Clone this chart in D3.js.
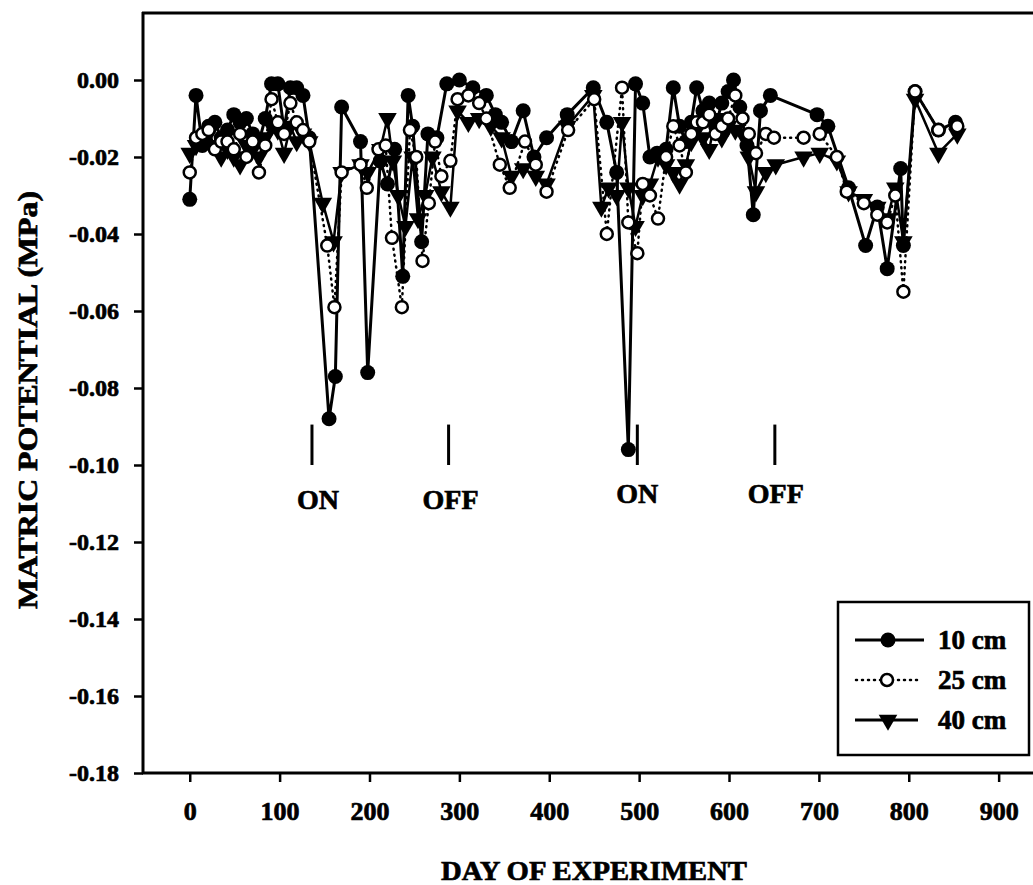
<!DOCTYPE html>
<html><head><meta charset="utf-8">
<script src="https://cdn.jsdelivr.net/npm/d3@7"></script>
<style>
html,body{margin:0;padding:0;background:#fff;}
svg text{font-family:"Liberation Serif","Times New Roman",serif;font-weight:bold;fill:#000;}
</style></head>
<body>
<svg id="chart" width="1033" height="885"></svg>
<script>
// ---------------- data ----------------
const xTicks = [0,100,200,300,400,500,600,700,800,900];
const yTicks = [0,-0.02,-0.04,-0.06,-0.08,-0.10,-0.12,-0.14,-0.16,-0.18];

const days10 = [0,7,14,21,28,35,42,49,56,63,70,77,84,91,98,105,112,119,126,133,
  155,162,169,190,198,212,220,228,237,243,248,258,265,275,286,300,315,330,340,347,358,371,383,397,420,
  449,464,475,488,496,504,512,520,530,538,545,552,558,564,571,578,585,592,599,605,612,620,627,635,646,
  698,710,733,752,765,776,791,794,807,833,852];
const mp10 = [-0.031,-0.004,-0.017,-0.012,-0.011,-0.015,-0.013,-0.009,-0.011,-0.010,-0.014,-0.016,-0.010,-0.001,-0.001,-0.013,-0.002,-0.002,-0.004,-0.015,
  -0.088,-0.077,-0.007,-0.016,-0.076,-0.021,-0.027,-0.018,-0.051,-0.004,-0.012,-0.042,-0.014,-0.015,-0.001,0.000,-0.002,-0.004,-0.009,-0.011,-0.016,-0.008,-0.020,-0.015,-0.009,
  -0.002,-0.011,-0.024,-0.096,-0.001,-0.006,-0.020,-0.019,-0.018,-0.002,-0.012,-0.016,-0.011,-0.002,-0.008,-0.006,-0.012,-0.006,-0.003,0.000,-0.007,-0.017,-0.035,-0.008,-0.004,
  -0.009,-0.012,-0.028,-0.043,-0.033,-0.049,-0.023,-0.043,-0.003,-0.013,-0.011];

const days25 = [0,7,14,21,28,35,42,49,56,63,70,77,84,91,98,105,112,119,126,133,
  153,161,169,190,197,210,218,225,236,245,252,259,266,273,280,290,298,310,322,330,345,356,373,385,397,421,
  450,464,481,488,498,504,512,521,530,538,545,552,558,564,571,578,585,592,599,607,615,622,630,641,650,
  683,701,720,731,750,765,776,785,794,807,833,854];
const mp25 = [-0.024,-0.015,-0.014,-0.013,-0.018,-0.016,-0.016,-0.018,-0.014,-0.020,-0.016,-0.024,-0.017,-0.005,-0.011,-0.014,-0.006,-0.011,-0.013,-0.016,
  -0.043,-0.059,-0.024,-0.022,-0.028,-0.018,-0.017,-0.041,-0.059,-0.013,-0.020,-0.047,-0.032,-0.016,-0.025,-0.021,-0.005,-0.004,-0.006,-0.010,-0.022,-0.028,-0.016,-0.022,-0.029,-0.013,
  -0.005,-0.040,-0.002,-0.037,-0.045,-0.027,-0.030,-0.036,-0.020,-0.012,-0.017,-0.024,-0.014,-0.011,-0.011,-0.009,-0.014,-0.012,-0.010,-0.004,-0.010,-0.014,-0.019,-0.014,-0.015,
  -0.015,-0.014,-0.020,-0.029,-0.032,-0.035,-0.037,-0.030,-0.055,-0.003,-0.013,-0.012];

const days40 = [0,7,14,21,28,35,42,49,56,63,70,77,84,91,98,105,112,119,126,133,
  148,160,169,190,198,212,220,226,232,240,248,254,262,270,280,290,298,310,322,335,347,358,371,385,397,420,
  449,458,466,475,481,488,496,504,512,521,530,538,545,552,558,564,571,578,585,592,599,607,615,622,630,641,652,
  683,701,720,733,750,765,776,785,794,807,833,854];
const mp40 = [-0.019,-0.017,-0.016,-0.014,-0.017,-0.020,-0.018,-0.020,-0.022,-0.017,-0.018,-0.020,-0.015,-0.012,-0.013,-0.019,-0.012,-0.016,-0.014,-0.016,
  -0.032,-0.042,-0.024,-0.022,-0.024,-0.018,-0.010,-0.021,-0.030,-0.038,-0.020,-0.036,-0.030,-0.020,-0.029,-0.033,-0.008,-0.011,-0.010,-0.012,-0.015,-0.025,-0.023,-0.025,-0.027,-0.012,
  -0.004,-0.033,-0.028,-0.030,-0.011,-0.028,-0.038,-0.030,-0.027,-0.020,-0.022,-0.024,-0.027,-0.022,-0.016,-0.013,-0.015,-0.018,-0.010,-0.015,-0.012,-0.013,-0.014,-0.020,-0.029,-0.024,-0.022,
  -0.020,-0.019,-0.021,-0.029,-0.031,-0.033,-0.036,-0.028,-0.042,-0.005,-0.019,-0.014];

const events = [
  {day:136, label:"ON",  dx:6,  dy:0},
  {day:288, label:"OFF", dx:2,  dy:0},
  {day:498, label:"ON",  dx:0,  dy:-6},
  {day:651, label:"OFF", dx:1,  dy:-6}
];
const eventTop = -0.0895, eventBottom = -0.100;

const seriesNames = ["10 cm","25 cm","40 cm"];

// ---------------- layout ----------------
const svg = d3.select("#chart");
const x = d3.scaleLinear().domain([-52, 936]).range([143, 1031]);
const y = d3.scaleLinear().domain([-0.18, 0.0174]).range([773, 13]);

const fmt = d => d3.format(".2f")(d).replace("\u2212","-");

// frame lines
svg.append("line").attr("x1",143).attr("x2",143).attr("y1",12).attr("y2",774)
  .attr("stroke","#000").attr("stroke-width",3);
svg.append("line").attr("x1",142).attr("x2",1033).attr("y1",13).attr("y2",13)
  .attr("stroke","#000").attr("stroke-width",3);
svg.append("line").attr("x1",142).attr("x2",1033).attr("y1",773).attr("y2",773)
  .attr("stroke","#000").attr("stroke-width",3);

// axes
const gy = svg.append("g").attr("transform","translate(143,0)")
  .call(d3.axisLeft(y).tickValues(yTicks).tickSize(9).tickPadding(15).tickFormat(fmt));
gy.select(".domain").remove();
gy.selectAll(".tick line").attr("stroke","#000").attr("stroke-width",2.5);
gy.selectAll(".tick text").attr("font-size",24).attr("font-family","Liberation Serif")
  .attr("font-weight","bold").attr("stroke","#000").attr("stroke-width",0.7);

const gx = svg.append("g").attr("transform","translate(0,773)")
  .call(d3.axisBottom(x).tickValues(xTicks).tickSize(9).tickPadding(20).tickFormat(d3.format("d")));
gx.select(".domain").remove();
gx.selectAll(".tick line").attr("stroke","#000").attr("stroke-width",2.5);
gx.selectAll(".tick text").attr("font-size",26).attr("font-family","Liberation Serif")
  .attr("font-weight","bold").attr("stroke","#000").attr("stroke-width",0.7);

// axis titles
svg.append("text").attr("x",594).attr("y",880).attr("text-anchor","middle")
  .attr("font-size",28).attr("stroke","#000").attr("stroke-width",0.7)
  .attr("textLength",306).attr("lengthAdjust","spacingAndGlyphs")
  .text("DAY OF EXPERIMENT");
svg.append("text").attr("transform","translate(37,400) rotate(-90)").attr("text-anchor","middle")
  .attr("font-size",28).attr("stroke","#000").attr("stroke-width",0.7)
  .attr("textLength",418).attr("lengthAdjust","spacingAndGlyphs")
  .text("MATRIC POTENTIAL (MPa)");

// events
events.forEach(e => {
  svg.append("line").attr("x1",x(e.day)).attr("x2",x(e.day))
    .attr("y1",y(eventTop)).attr("y2",y(eventBottom))
    .attr("stroke","#000").attr("stroke-width",3);
  svg.append("text").attr("x",x(e.day)+e.dx).attr("y",y(eventBottom)+44+e.dy)
    .attr("text-anchor","middle").attr("font-size",28)
    .attr("stroke","#000").attr("stroke-width",0.7).text(e.label);
});

// series
const s10 = days10.map((d,i)=>({d, v:mp10[i]}));
const s25 = days25.map((d,i)=>({d, v:mp25[i]}));
const s40 = days40.map((d,i)=>({d, v:mp40[i]}));
const line = d3.line().x(p=>x(p.d)).y(p=>y(p.v));

const tri = d3.symbol().type(d3.symbolTriangle).size(150);

function drawLine(data, opts){
  svg.append("path").datum(data).attr("d",line).attr("fill","none")
    .attr("stroke","#000").attr("stroke-width",opts.w)
    .attr("stroke-dasharray",opts.dash||null).attr("stroke-linecap",opts.cap||"butt")
    .attr("stroke-linejoin","round");
}
drawLine(s40,{w:2.5});
drawLine(s10,{w:3});
drawLine(s25,{w:2.5,dash:"1,5",cap:"round"});

svg.append("g").selectAll("path").data(s40).join("path")
  .attr("d",tri).attr("transform",p=>`translate(${x(p.d)},${y(p.v)}) rotate(180)`)
  .attr("fill","#000");
svg.append("g").selectAll("circle").data(s10).join("circle")
  .attr("cx",p=>x(p.d)).attr("cy",p=>y(p.v)).attr("r",7.5).attr("fill","#000");
svg.append("g").selectAll("circle").data(s25).join("circle")
  .attr("cx",p=>x(p.d)).attr("cy",p=>y(p.v)).attr("r",6).attr("fill","#fff")
  .attr("stroke","#000").attr("stroke-width",2.5);

// legend
const lg = svg.append("g");
lg.append("rect").attr("x",838).attr("y",602).attr("width",191).attr("height",153)
  .attr("fill","#fff").attr("stroke","#000").attr("stroke-width",2.5);
const rows = [640,680,720];
// 10 cm
lg.append("line").attr("x1",855).attr("x2",924).attr("y1",rows[0]).attr("y2",rows[0]).attr("stroke","#000").attr("stroke-width",3);
lg.append("circle").attr("cx",888).attr("cy",rows[0]).attr("r",7.5).attr("fill","#000");
// 25 cm
lg.append("line").attr("x1",856).attr("x2",918).attr("y1",rows[1]).attr("y2",rows[1]).attr("stroke","#000")
  .attr("stroke-width",2.5).attr("stroke-dasharray","1,5").attr("stroke-linecap","round");
lg.append("circle").attr("cx",887).attr("cy",rows[1]).attr("r",6).attr("fill","#fff").attr("stroke","#000").attr("stroke-width",2.5);
// 40 cm
lg.append("line").attr("x1",855).attr("x2",918).attr("y1",rows[2]).attr("y2",rows[2]).attr("stroke","#000").attr("stroke-width",3);
lg.append("path").attr("d",tri).attr("transform",`translate(888,${rows[2]}) rotate(180)`).attr("fill","#000");
seriesNames.forEach((n,i)=>{
  lg.append("text").attr("x",938).attr("y",rows[i]+9).attr("font-size",27)
    .attr("stroke","#000").attr("stroke-width",0.7).text(n);
});
</script>
</body></html>
